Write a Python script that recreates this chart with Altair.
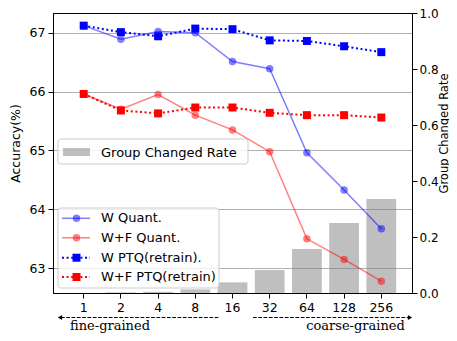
import altair as alt
import pandas as pd

groups = ["1", "2", "4", "8", "16", "32", "64", "128", "256"]
w_quant = [67.12, 66.89, 67.02, 67.00, 66.51, 66.39, 64.96, 64.33, 63.67]
wf_quant = [65.96, 65.70, 65.95, 65.60, 65.35, 64.98, 63.50, 63.15, 62.78]
w_ptq = [67.12, 67.01, 66.94, 67.07, 67.06, 66.87, 66.86, 66.77, 66.67]
wf_ptq = [65.96, 65.68, 65.63, 65.73, 65.73, 65.64, 65.60, 65.60, 65.56]
changed_rate = [0.0, 0.002, 0.004, 0.013, 0.038, 0.082, 0.157, 0.250, 0.336]
series_names = ["W Quant.", "W+F Quant.", "W PTQ(retrain).", "W+F PTQ(retrain)"]
bar_name = "Group Changed Rate"
left_ticks = [63, 64, 65, 66, 67]
right_ticks = [0.0, 0.2, 0.4, 0.6, 0.8, 1.0]

W, H = 359, 280
FONT = "DejaVu Sans"
TICK_FS = 12.5
LEG_FS = 13

xenc = alt.X("g:N", sort=groups, title=None,
             scale=alt.Scale(type="band", paddingInner=0.2, paddingOuter=0.425),
             axis=alt.Axis(labelAngle=0, labelFontSize=TICK_FS, labelColor="black",
                           tickColor="black", domainColor="black", tickSize=5,
                           labelPadding=3, grid=False))

bar_df = pd.DataFrame({"g": groups, "rate": changed_rate})
bars = alt.Chart(bar_df).mark_bar(color="#808080", opacity=0.5).encode(
    x=xenc,
    y=alt.Y("rate:Q", scale=alt.Scale(domain=[0, 1], nice=False, zero=True),
            axis=alt.Axis(orient="right", values=right_ticks, format=".1f",
                          title=bar_name, titleAngle=270, titleFontSize=11.5,
                          titleFontWeight="normal", titleColor="black",
                          titleX=32, titleY=120, titleAlign="center", titleBaseline="middle",
                          labelFontSize=12, labelColor="black", tickColor="black",
                          domainColor="black", tickSize=5, labelPadding=2, grid=False)),
)

yscale = alt.Scale(domain=[62.58, 67.335], nice=False, zero=False)
yaxis = alt.Axis(orient="left", values=left_ticks, title="Accuracy(%)", titleFontSize=12.5,
                 titleFontWeight="normal", titleColor="black",
                 titleX=-38, titleY=130, titleAlign="center", titleBaseline="middle",
                 titleAngle=270,
                 labelFontSize=TICK_FS, labelColor="black", tickColor="black",
                 domainColor="black", tickSize=5, labelPadding=3,
                 grid=True, gridColor="#b0b0b0", gridWidth=1)

styles = [
    dict(vals=w_quant, color="#0000ff", shape="circle", dash=None, op=0.5, size=56, sw=1.5),
    dict(vals=wf_quant, color="#ff0000", shape="circle", dash=None, op=0.5, size=56, sw=1.5),
    dict(vals=w_ptq, color="#0000ff", shape="square", dash=[2, 2.6], op=1.0, size=64, sw=2),
    dict(vals=wf_ptq, color="#ff0000", shape="square", dash=[2, 2.6], op=1.0, size=64, sw=2),
]

line_layers = []
for st in styles:
    d = pd.DataFrame({"g": groups, "acc": st["vals"]})
    lkw = dict(color=st["color"], opacity=st["op"], strokeWidth=st["sw"])
    if st["dash"]:
        lkw["strokeDash"] = st["dash"]
    base = alt.Chart(d)
    line_layers.append(base.mark_line(**lkw).encode(
        x=xenc, y=alt.Y("acc:Q", scale=yscale, axis=yaxis)))
    line_layers.append(base.mark_point(shape=st["shape"], filled=True, color=st["color"],
                                       opacity=st["op"], size=st["size"]).encode(
        x=xenc, y=alt.Y("acc:Q", scale=yscale, axis=yaxis)))

lines = alt.layer(*line_layers)

one = pd.DataFrame({"a": [0]})


def box(x1, x2, y1, y2):
    return alt.Chart(one).mark_rect(fill="white", fillOpacity=0.8, stroke="#cccccc",
                                    strokeWidth=1, cornerRadius=3).encode(
        x=alt.value(x1), x2=alt.value(x2), y=alt.value(y1), y2=alt.value(y2))


def label(text, x, y, size=LEG_FS, font=FONT):
    return alt.Chart(one).mark_text(text=text, align="left", baseline="middle",
                                    fontSize=size, font=font, color="black").encode(
        x=alt.value(x), y=alt.value(y))


deco = []
# legend 1
deco.append(box(5, 195, 126, 151))
deco.append(alt.Chart(one).mark_rect(color="#808080", opacity=0.5).encode(
    x=alt.value(10), x2=alt.value(37), y=alt.value(135), y2=alt.value(143)))
deco.append(label(bar_name, 48, 139.5))

# legend 2
deco.append(box(5, 166, 195, 275))
rows = [205.3, 224.8, 244.7, 264]
for st, name, ry in zip(styles, series_names, rows):
    lkw = dict(color=st["color"], opacity=st["op"], strokeWidth=st["sw"])
    if st["dash"]:
        lkw["strokeDash"] = st["dash"]
    deco.append(alt.Chart(one).mark_rule(**lkw).encode(
        x=alt.value(9), x2=alt.value(37), y=alt.value(ry)))
    deco.append(alt.Chart(one).mark_point(shape=st["shape"], filled=True, color=st["color"],
                                          opacity=st["op"], size=st["size"]).encode(
        x=alt.value(23.5), y=alt.value(ry)))
    deco.append(label(name, 48, ry))

# granularity arrows
ay = 304.5
deco.append(alt.Chart(one).mark_rule(color="black", strokeWidth=1, strokeDash=[3.7, 1.6]).encode(
    x=alt.value(8), x2=alt.value(166), y=alt.value(ay)))
deco.append(alt.Chart(one).mark_point(shape="triangle-left", filled=True, color="black",
                                      size=24, opacity=1).encode(
    x=alt.value(7), y=alt.value(ay)))
deco.append(alt.Chart(one).mark_rule(color="black", strokeWidth=1, strokeDash=[3.7, 1.6]).encode(
    x=alt.value(200), x2=alt.value(356), y=alt.value(ay)))
deco.append(alt.Chart(one).mark_point(shape="triangle-right", filled=True, color="black",
                                      size=24, opacity=1).encode(
    x=alt.value(357), y=alt.value(ay)))
deco.append(alt.Chart(one).mark_text(text="fine-grained", align="center", baseline="alphabetic",
                                     fontSize=13, font="DejaVu Serif", color="black").encode(
    x=alt.value(57), y=alt.value(317.3)))
deco.append(alt.Chart(one).mark_text(text="coarse-grained", align="center", baseline="alphabetic",
                                     fontSize=13, font="DejaVu Serif", color="black").encode(
    x=alt.value(302.5), y=alt.value(317.3)))

chart = alt.layer(bars, lines, *deco).resolve_scale(y="independent").properties(
    width=W, height=H,
    autosize=alt.AutoSizeParams(type="none"),
    padding={"left": 45, "top": 5, "right": 37, "bottom": 40},
).configure(font=FONT).configure_view(stroke="black", strokeWidth=1)

chart.save("out.html", embed_options={"renderer": "svg", "actions": False})
